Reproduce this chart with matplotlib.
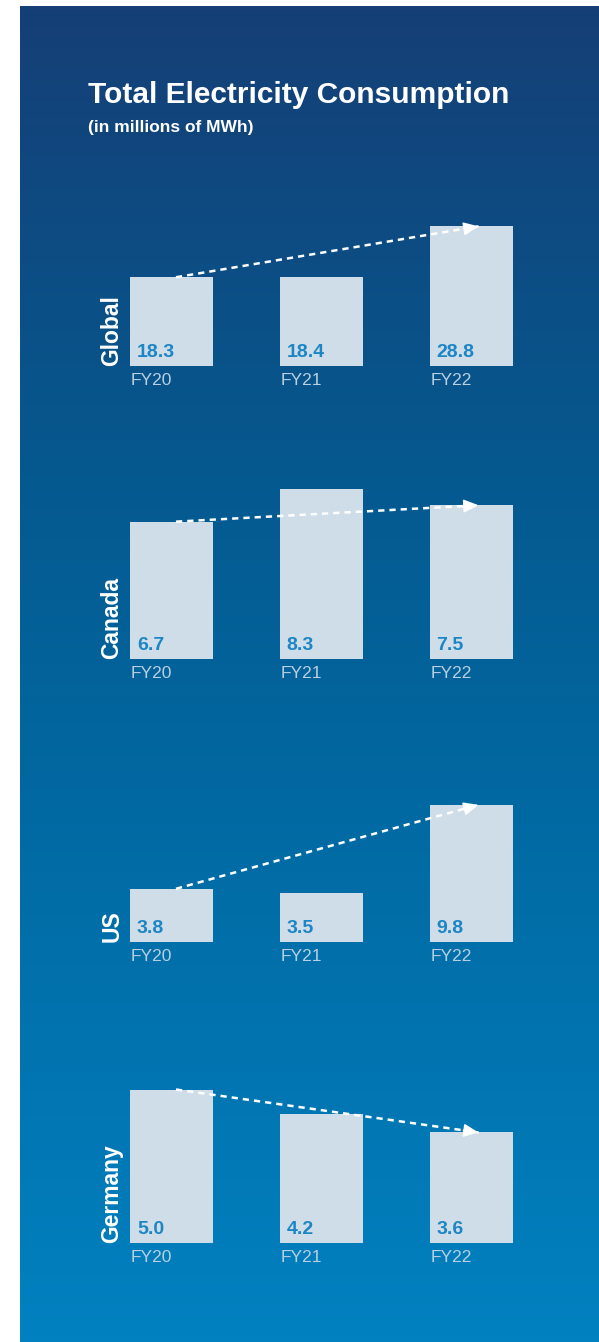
import numpy as np
import matplotlib.pyplot as plt
from matplotlib.colors import LinearSegmentedColormap

# data
years = ['FY20', 'FY21', 'FY22']
regions = ['Global', 'Canada', 'US', 'Germany']
global_vals = [18.3, 18.4, 28.8]
canada_vals = [6.7, 8.3, 7.5]
us_vals = [3.8, 3.5, 9.8]
germany_vals = [5.0, 4.2, 3.6]
series = [global_vals, canada_vals, us_vals, germany_vals]

title = 'Total Electricity Consumption'
subtitle = '(in millions of MWh)'

# layout (pixels)
W, H = 599, 1342
baselines = [366, 659, 942, 1243]
px_per_unit = [4.85, 20.5, 14.0, 30.7]

font = ['Liberation Sans', 'DejaVu Sans']
bar_color = '#cfdde8'
value_color = '#1c86c5'
year_color = '#b9d0e2'

fig = plt.figure(figsize=(W / 100, H / 100), dpi=100)
fig.patch.set_facecolor('white')


def px_axes(left, top, width, height):
    return fig.add_axes([left / W, 1 - (top + height) / H, width / W, height / H])


# gradient background
bg = px_axes(20, 6, W - 20, H - 6)
cmap = LinearSegmentedColormap.from_list(
    'bg', [(0, '#153f76'), (0.35, '#05598f'), (0.68, '#016ea8'), (1, '#0281c0')])
bg.imshow(np.linspace(0, 1, 256).reshape(-1, 1), aspect='auto', cmap=cmap,
          extent=[0, 1, 0, 1])
bg.axis('off')

fig.text(88 / W, 1 - 103 / H, title, family=font, weight='bold', fontsize=21.5,
         color='white', va='baseline', ha='left')
fig.text(88 / W, 1 - 132 / H, subtitle, family=font, weight='bold', fontsize=12.5,
         color='white', va='baseline', ha='left')

x = np.arange(len(years))
bw = 0.554
ax_h = 200
for region, vals, base, ppu in zip(regions, series, baselines, px_per_unit):
    ax = px_axes(90, base - ax_h, 470, ax_h)
    ax.set_xlim(-0.544, 2.594)
    ax.set_ylim(0, ax_h / ppu)
    ax.axis('off')
    ax.bar(x, vals, width=bw, color=bar_color, edgecolor='none', zorder=1)

    for i, v in enumerate(vals):
        ax.annotate(f'{v:.1f}', xy=(x[i] - bw / 2, 0), xytext=(7, 9),
                    textcoords='offset pixels', ha='left', va='baseline',
                    family=font, weight='bold', fontsize=14, color=value_color,
                    zorder=3)
        ax.annotate(years[i], xy=(x[i] - bw / 2, 0), xytext=(1, -7),
                    textcoords='offset pixels', ha='left', va='top',
                    family=font, fontsize=12.5, color=year_color,
                    annotation_clip=False)

    ax.annotate(region, xy=(0, 0), xycoords='axes fraction', xytext=(22, 0),
                textcoords='offset pixels', rotation=90, ha='center', va='bottom',
                family=font, weight='bold', fontsize=16.5, color='white',
                annotation_clip=False)

    # dashed trend line with a solid head
    x0, x1 = 0.03, 2.05
    y0, y1 = vals[0], vals[2]
    ax.plot([x0, x1], [y0, y1], color='white', lw=1.8, ls=(0, (2.5, 2)),
            clip_on=False, zorder=4)
    t = 0.95
    ax.annotate('', xy=(x1, y1), xytext=(x0 + t * (x1 - x0), y0 + t * (y1 - y0)),
                arrowprops=dict(arrowstyle='-|>,head_length=0.9,head_width=0.4',
                                color='white', lw=1.2, shrinkA=0, shrinkB=0),
                annotation_clip=False, zorder=4)

fig.savefig('out.png', dpi=100, facecolor=fig.get_facecolor())
